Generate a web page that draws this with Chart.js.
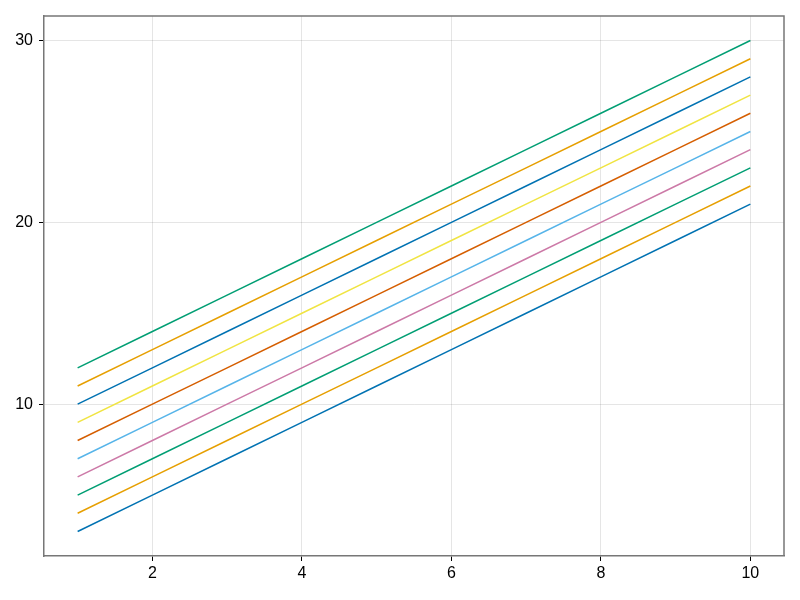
<!DOCTYPE html>
<html>
<head>
<meta charset="utf-8">
<title>Lines</title>
<script src="https://cdn.jsdelivr.net/npm/chart.js@4.4.0/dist/chart.umd.min.js"></script>
<style>
  html, body { margin: 0; padding: 0; background: #fff; }
  #wrap { width: 800px; height: 600px; }
</style>
</head>
<body>
<div id="wrap"><canvas id="c" width="800" height="600"></canvas></div>
<script>
var xs = [1, 2, 3, 4, 5, 6, 7, 8, 9, 10];
var line1 = [3, 5, 7, 9, 11, 13, 15, 17, 19, 21];
var line2 = [4, 6, 8, 10, 12, 14, 16, 18, 20, 22];
var line3 = [5, 7, 9, 11, 13, 15, 17, 19, 21, 23];
var line4 = [6, 8, 10, 12, 14, 16, 18, 20, 22, 24];
var line5 = [7, 9, 11, 13, 15, 17, 19, 21, 23, 25];
var line6 = [8, 10, 12, 14, 16, 18, 20, 22, 24, 26];
var line7 = [9, 11, 13, 15, 17, 19, 21, 23, 25, 27];
var line8 = [10, 12, 14, 16, 18, 20, 22, 24, 26, 28];
var line9 = [11, 13, 15, 17, 19, 21, 23, 25, 27, 29];
var line10 = [12, 14, 16, 18, 20, 22, 24, 26, 28, 30];
var xTicks = [2, 4, 6, 8, 10];
var yTicks = [10, 20, 30];

var allLines = [line1, line2, line3, line4, line5, line6, line7, line8, line9, line10];
var colors = ['#0072B2', '#E69F00', '#009E73', '#CC79A7', '#56B4E9',
              '#D55E00', '#F0E442', '#0072B2', '#E69F00', '#009E73'];

var datasets = allLines.map(function (ys, i) {
  return {
    data: xs.map(function (x, j) { return {x: x, y: ys[j]}; }),
    borderColor: colors[i],
    borderWidth: 1.5,
    pointRadius: 0,
    fill: false,
    tension: 0
  };
});

// frame on top and right side
var framePlugin = {
  id: 'frame',
  afterDraw: function (chart) {
    var a = chart.chartArea, ctx = chart.ctx;
    ctx.save();
    ctx.strokeStyle = '#777';
    ctx.lineWidth = 1.5;
    ctx.beginPath();
    ctx.moveTo(a.left, a.top);
    ctx.lineTo(a.right, a.top);
    ctx.lineTo(a.right, a.bottom);
    ctx.stroke();
    ctx.restore();
  }
};

Chart.defaults.font.family = '"Liberation Sans", Arial, sans-serif';

new Chart(document.getElementById('c'), {
  type: 'line',
  data: { datasets: datasets },
  options: {
    responsive: false,
    animation: false,
    layout: { padding: { top: 16, right: 16, left: 0, bottom: 0 } },
    plugins: { legend: { display: false }, tooltip: { enabled: false } },
    scales: {
      x: {
        type: 'linear',
        min: 0.55,
        max: 10.45,
        afterBuildTicks: function (s) { s.ticks = xTicks.map(function (v) { return {value: v}; }); },
        afterFit: function (s) { s.height = 44; },
        grid: { color: 'rgba(0,0,0,0.1)', tickColor: '#000', tickLength: 5, lineWidth: 1 },
        border: { display: true, color: '#777', width: 1.5 },
        ticks: { color: '#000', font: { size: 16 }, padding: 3, maxRotation: 0 }
      },
      y: {
        type: 'linear',
        min: 1.65,
        max: 31.35,
        afterBuildTicks: function (s) { s.ticks = yTicks.map(function (v) { return {value: v}; }); },
        afterFit: function (s) { s.width = 44; },
        grid: { color: 'rgba(0,0,0,0.1)', tickColor: '#000', tickLength: 5, lineWidth: 1 },
        border: { display: true, color: '#777', width: 1.5 },
        ticks: { color: '#000', font: { size: 16 }, padding: 6 }
      }
    }
  },
  plugins: [framePlugin]
});
</script>
</body>
</html>
